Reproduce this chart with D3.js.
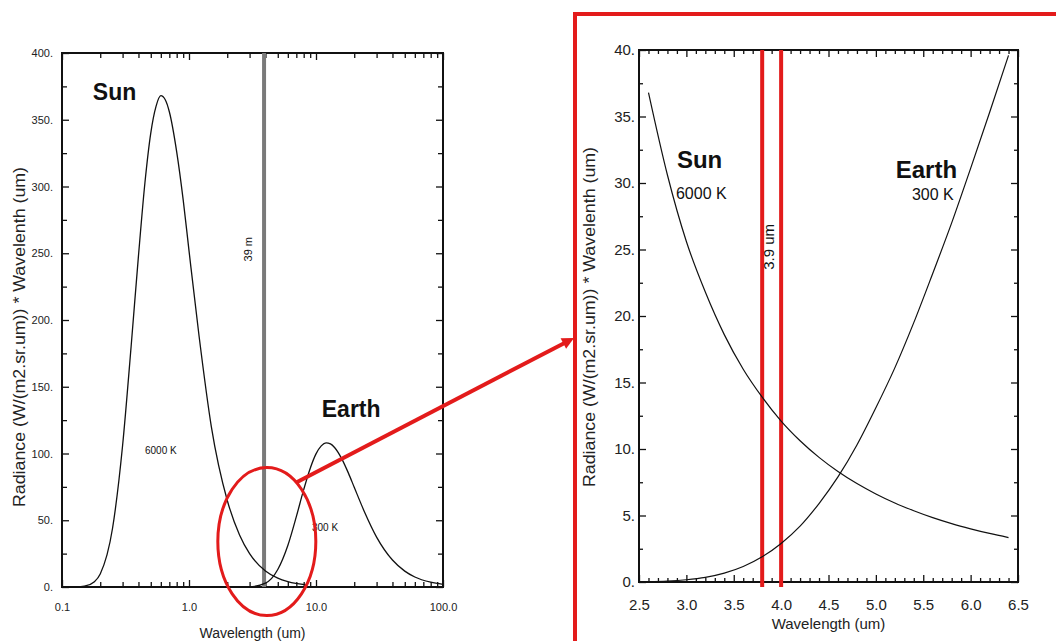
<!DOCTYPE html>
<html>
<head>
<meta charset="utf-8">
<script src="https://cdn.jsdelivr.net/npm/d3@7"></script>
<style>
body { margin: 0; background: #fff; }
svg { font-family: "Liberation Sans", Arial, sans-serif; }
</style>
</head>
<body>
<svg id="viz" width="1056" height="641"></svg>
<script>

// wide view (log wavelength axis)
const sunWave   = [0.1, 0.13, 0.15, 0.18, 0.2, 0.25, 0.3, 0.35, 0.4, 0.45, 0.5, 0.55, 0.6, 0.65, 0.7, 0.8, 0.9, 1.0, 1.2, 1.5, 2.0, 2.5, 3.0, 4.0, 5.0, 6.0, 8.5];
const sunRad    = [0, 0.1, 0.6, 4.0, 9.8, 44, 106, 180, 248, 303, 340, 360, 368, 365, 356, 326, 290, 252, 188, 120, 65, 39, 25, 12, 6.6, 4.0, 1.5];
const earthWave = [1.5, 2.0, 2.5, 3.0, 4.0, 5.0, 6.0, 7.0, 8.0, 9.0, 10, 11, 12, 13, 14, 16, 18, 20, 24, 30, 40, 50, 60, 80, 100];
const earthRad  = [0, 0, 0.02, 0.17, 2.9, 13.1, 31.1, 52.7, 72.9, 88.8, 99.7, 105.7, 108, 107.2, 104.5, 95.8, 85.3, 74.7, 56.6, 37.4, 20.2, 11.9, 7.5, 3.6, 2.0];

// zoomed view (linear wavelength axis)
const zoomWave     = [2.6, 2.8, 3.0, 3.2, 3.4, 3.6, 3.8, 4.0, 4.2, 4.4, 4.6, 4.8, 5.0, 5.2, 5.4, 5.6, 5.8, 6.0, 6.2, 6.4];
const zoomSunRad   = [36.8, 30.6, 25.6, 21.8, 18.6, 16.0, 13.9, 12.1, 10.62, 9.37, 8.31, 7.40, 6.62, 5.94, 5.36, 4.84, 4.39, 4.0, 3.65, 3.34];
const zoomEarthRad = [0.03, 0.07, 0.17, 0.35, 0.67, 1.17, 1.9, 2.9, 4.2, 5.9, 7.9, 10.3, 13.1, 16.1, 19.5, 23.2, 27.0, 31.1, 35.3, 39.6];

// channel markers
const wideChannel = 3.9;
const zoomChannel = [3.8, 4.0];

// ticks
const wideXTicks  = [0.1, 1, 10, 100];
const wideXLabels = ["0.1", "1.0", "10.0", "100.0"];
const wideYTicks  = [0, 50, 100, 150, 200, 250, 300, 350, 400];
const zoomXTicks  = [2.5, 3.0, 3.5, 4.0, 4.5, 5.0, 5.5, 6.0, 6.5];
const zoomYTicks  = [0, 5, 10, 15, 20, 25, 30, 35, 40];

const yTitle = "Radiance (W/(m2.sr.um)) * Wavelenth (um)";
const xTitle = "Wavelength (um)";
const red = "#e31b1b";

let svg = d3.select("body").select("svg#viz");

// left chart
const wide = {left: 62, top: 53, width: 381, height: 534};
let wideX = d3.scaleLog().domain([0.1, 100]).range([0, wide.width]);
let wideY = d3.scaleLinear().domain([0, 400]).range([wide.height, 0]);

// right chart
const zoom = {left: 639, top: 50, width: 379, height: 532};
let zoomX = d3.scaleLinear().domain([2.5, 6.5]).range([0, zoom.width]);
let zoomY = d3.scaleLinear().domain([0, 40]).range([zoom.height, 0]);

let widePlot = svg.append("g").attr("transform", `translate(${wide.left},${wide.top})`);
let zoomPlot = svg.append("g").attr("transform", `translate(${zoom.left},${zoom.top})`);

// log minor ticks 2..9 in each decade
let wideXMinor = [];
[0.1, 1, 10].forEach(dec => { for (let k = 2; k <= 9; k++) wideXMinor.push(k * dec); });
let wideYMinor = d3.range(25, 400, 50);
let zoomXMinor = d3.range(25, 65).map(d => d / 10).filter(d => Math.round(d * 10) % 5 != 0);
let zoomYMinor = d3.range(2.5, 40, 5);

function drawAxes(plot, x, y, w, h, cfg) {
	// bottom, labelled
	let b = plot.append("g").attr("transform", `translate(0,${h})`)
		.call(d3.axisBottom(x).tickValues(cfg.xMajor).tickFormat((d, i) => cfg.xLabels[i])
			.tickSizeInner(-cfg.majorLen).tickSizeOuter(0).tickPadding(cfg.xPad));
	b.attr("font-size", cfg.xFont).attr("font-family", null);
	b.selectAll("text").attr("fill", "#222");

	plot.append("g").attr("transform", `translate(0,${h})`)
		.call(d3.axisBottom(x).tickValues(cfg.xMinor).tickFormat("").tickSizeInner(-cfg.minorLen).tickSizeOuter(0));

	// top
	plot.append("g").call(d3.axisTop(x).tickValues(cfg.xMajor).tickFormat("").tickSizeInner(-cfg.majorLen).tickSizeOuter(0));
	plot.append("g").call(d3.axisTop(x).tickValues(cfg.xMinor).tickFormat("").tickSizeInner(-cfg.minorLen).tickSizeOuter(0));

	// left, labelled
	let l = plot.append("g")
		.call(d3.axisLeft(y).tickValues(cfg.yMajor).tickFormat(d => d + ".")
			.tickSizeInner(-cfg.majorLen).tickSizeOuter(0).tickPadding(cfg.yPad));
	l.attr("font-size", cfg.yFont).attr("font-family", null);
	l.selectAll("text").attr("fill", "#222");
	plot.append("g").call(d3.axisLeft(y).tickValues(cfg.yMinor).tickFormat("").tickSizeInner(-cfg.minorLen).tickSizeOuter(0));

	// right
	plot.append("g").attr("transform", `translate(${w},0)`)
		.call(d3.axisRight(y).tickValues(cfg.yMajor).tickFormat("").tickSizeInner(-cfg.majorLen).tickSizeOuter(0));
	plot.append("g").attr("transform", `translate(${w},0)`)
		.call(d3.axisRight(y).tickValues(cfg.yMinor).tickFormat("").tickSizeInner(-cfg.minorLen).tickSizeOuter(0));

	plot.selectAll(".domain").remove();
	plot.selectAll(".tick line").attr("stroke", "#111").attr("stroke-width", 1.3);

	plot.append("rect")
		.attr("width", w).attr("height", h)
		.attr("fill", "none").attr("stroke", "#111").attr("stroke-width", 2);

	// titles
	plot.append("text")
		.attr("x", w / 2).attr("y", h + cfg.xTitleDy)
		.attr("text-anchor", "middle")
		.attr("font-size", cfg.xTitleFont).attr("fill", "#222")
		.text(xTitle);

	plot.append("text")
		.attr("transform", `translate(${cfg.yTitleDx},${cfg.yTitleCy}) rotate(-90)`)
		.attr("text-anchor", "middle")
		.attr("font-size", 16).attr("fill", "#222")
		.attr("textLength", 340).attr("lengthAdjust", "spacingAndGlyphs")
		.text(yTitle);
}

drawAxes(widePlot, wideX, wideY, wide.width, wide.height, {
	xMajor: wideXTicks, xLabels: wideXLabels, xMinor: wideXMinor,
	yMajor: wideYTicks, yMinor: wideYMinor,
	majorLen: 7, minorLen: 5, xPad: 16, yPad: 9, xFont: 11, yFont: 11,
	xTitleDy: 51, xTitleFont: 14, yTitleDx: -37, yTitleCy: 284
});

drawAxes(zoomPlot, zoomX, zoomY, zoom.width, zoom.height, {
	xMajor: zoomXTicks, xLabels: zoomXTicks.map(d => d.toFixed(1)), xMinor: zoomXMinor,
	yMajor: zoomYTicks, yMinor: zoomYMinor,
	majorLen: 7, minorLen: 4, xPad: 17, yPad: 4, xFont: 15, yFont: 15,
	xTitleDy: 47, xTitleFont: 15, yTitleDx: -44, yTitleCy: 267
});

// channel lines
widePlot.append("line")
	.attr("x1", wideX(wideChannel)).attr("x2", wideX(wideChannel))
	.attr("y1", 0).attr("y2", wide.height)
	.attr("stroke", "#7a7a7a").attr("stroke-width", 4);

zoomPlot.selectAll("line.channel")
	.data(zoomChannel)
	.enter().append("line")
	.attr("class", "channel")
	.attr("x1", d => zoomX(d)).attr("x2", d => zoomX(d))
	.attr("y1", 0).attr("y2", zoom.height + 5)
	.attr("stroke", red).attr("stroke-width", 4);

// curves
let wideLine = d3.line().x(d => wideX(d[0])).y(d => wideY(d[1])).curve(d3.curveMonotoneX);
let zoomLine = d3.line().x(d => zoomX(d[0])).y(d => zoomY(d[1])).curve(d3.curveMonotoneX);

let wideSeries = [d3.zip(sunWave, sunRad), d3.zip(earthWave, earthRad)];
let zoomSeries = [d3.zip(zoomWave, zoomSunRad), d3.zip(zoomWave, zoomEarthRad)];

widePlot.selectAll("path.curve").data(wideSeries)
	.enter().append("path")
	.attr("class", "curve")
	.attr("d", wideLine)
	.attr("fill", "none").attr("stroke", "#111").attr("stroke-width", 1.3);

zoomPlot.selectAll("path.curve").data(zoomSeries)
	.enter().append("path")
	.attr("class", "curve")
	.attr("d", zoomLine)
	.attr("fill", "none").attr("stroke", "#111").attr("stroke-width", 1.2);

// labels
function label(plot, x, y, pos, txt, size, bold, rotate) {
	let t = plot.append("text")
		.attr("font-size", size)
		.attr("font-weight", bold ? "bold" : null)
		.attr("fill", "#111")
		.text(txt);
	if (rotate) {
		t.attr("text-anchor", "middle")
			.attr("transform", `translate(${x(pos[0])},${y(pos[1])}) rotate(-90)`);
	} else {
		t.attr("x", x(pos[0])).attr("y", y(pos[1]));
	}
}

label(widePlot, wideX, wideY, [0.175, 365], "Sun", 23, true);
label(widePlot, wideX, wideY, [11.1, 127], "Earth", 23, true);
label(widePlot, wideX, wideY, [0.45, 100], "6000 K", 10);
label(widePlot, wideX, wideY, [9.3, 42], "300 K", 10);
label(widePlot, wideX, wideY, [3.13, 253], "39 m", 11, false, true);

label(zoomPlot, zoomX, zoomY, [2.9, 31.1], "Sun", 24, true);
label(zoomPlot, zoomX, zoomY, [5.21, 30.4], "Earth", 24, true);
label(zoomPlot, zoomX, zoomY, [2.89, 28.8], "6000 K", 16);
label(zoomPlot, zoomX, zoomY, [5.38, 28.7], "300 K", 16);
label(zoomPlot, zoomX, zoomY, [3.93, 25.2], "3.9 um", 15, false, true);

// red zoom box, ellipse and arrow
const boxLeft = 575, boxTop = 14;
svg.append("path")
	.attr("d", `M${boxLeft},650 L${boxLeft},${boxTop} L1070,${boxTop}`)
	.attr("fill", "none").attr("stroke", red).attr("stroke-width", 4);

let ex = wide.left + wideX(4.1), ey = wide.top + wideY(34), rx = 49, ry = 74;
svg.append("ellipse")
	.attr("cx", ex).attr("cy", ey).attr("rx", rx).attr("ry", ry)
	.attr("fill", "none").attr("stroke", red).attr("stroke-width", 3);

let ax = ex + rx * 0.6, ay = ey - ry * 0.8;
let tipX = boxLeft - 1, tipY = 338;
let ang = Math.atan2(tipY - ay, tipX - ax);
svg.append("line")
	.attr("x1", ax).attr("y1", ay)
	.attr("x2", tipX - 9 * Math.cos(ang)).attr("y2", tipY - 9 * Math.sin(ang))
	.attr("stroke", red).attr("stroke-width", 4);
let hl = 12, hw = 6;
let bx = tipX - hl * Math.cos(ang), by = tipY - hl * Math.sin(ang);
svg.append("polygon")
	.attr("points", [
		[tipX, tipY],
		[bx + hw * Math.sin(ang), by - hw * Math.cos(ang)],
		[bx - hw * Math.sin(ang), by + hw * Math.cos(ang)]
	].map(p => p.join(",")).join(" "))
	.attr("fill", red);

</script>
</body>
</html>
